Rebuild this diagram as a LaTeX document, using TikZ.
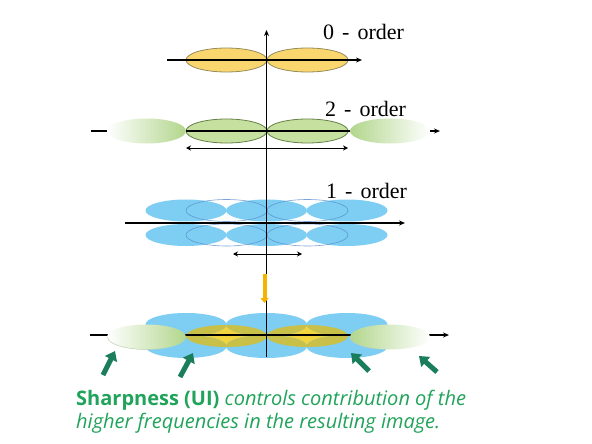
\documentclass[tikz,border=0pt]{standalone}
\usepackage{fontspec}
\setmainfont{Liberation Serif}
\newfontfamily\capfont{Open Sans}
\usetikzlibrary{arrows.meta}
\definecolor{yfill}{RGB}{249,214,110}
\definecolor{yline}{RGB}{150,140,90}
\definecolor{gfill}{RGB}{198,224,160}
\definecolor{gline}{RGB}{100,130,70}
\definecolor{gfuzz}{RGB}{178,214,140}
\definecolor{bfill}{RGB}{125,206,242}
\definecolor{bline}{RGB}{90,140,205}
\definecolor{olivey}{RGB}{200,192,72}
\definecolor{byel}{RGB}{242,212,62}
\definecolor{orng}{RGB}{245,180,0}
\definecolor{tgreen}{RGB}{32,163,90}
\definecolor{agreen}{RGB}{26,125,92}
\newcommand{\ordlabel}[1]{#1\hspace{8pt}-\hspace{8pt}order}
\begin{document}
\begin{tikzpicture}[x=1pt,y=-1pt,
  axis/.style={line width=1.1pt,black},
  axarrow/.style={axis,-{Stealth[length=6pt,width=5pt]}},
  dblarrow/.style={line width=1pt,black,{Stealth[length=5pt,width=5pt]}-{Stealth[length=5pt,width=5pt]}},
  yell/.style={fill=yfill,draw=yline,line width=0.8pt},
  gell/.style={fill=gfill,draw=gline,line width=0.8pt},
  bell/.style={fill=bfill},
  bout/.style={draw=bline,line width=0.6pt,opacity=0.8},
  fuzzL/.style={left color=white,right color=gfuzz},
  fuzzR/.style={left color=gfuzz,right color=white},
  label/.style={font=\fontsize{22}{25}\selectfont,anchor=base west,inner sep=0pt},
  greenarrow/.style={line width=5pt,agreen,-{Triangle[length=9pt,width=13pt]}},
  captxt/.style={font=\capfont\fontsize{20}{23}\selectfont,text=tgreen,anchor=base west,inner sep=0pt}
]
\useasboundingbox (0,0) rectangle (592,444);
\fill[white] (0,0) rectangle (592,444);

% ---------- 0-order ----------
\draw[yell] (226.5,60) ellipse [x radius=40.5,y radius=12];
\draw[yell] (307.5,60) ellipse [x radius=40.5,y radius=12];
\coordinate (a0L) at (167,60);
\coordinate (a0R) at (362,60);
\draw[axarrow] (a0L) -- (a0R);
\node[label] (l0) at (323,40) {\ordlabel{0}};

% ---------- 2-order ----------
\draw[gell] (226.5,131) ellipse [x radius=40.5,y radius=12];
\draw[gell] (307.5,131) ellipse [x radius=40.5,y radius=12];
\coordinate (a2L) at (91,131);
\coordinate (a2R) at (440,131);
\draw[axarrow] (a2L) -- (a2R);
\shade[fuzzL] (146.5,131) ellipse [x radius=39.5,y radius=12.5];
\shade[fuzzR] (390,131) ellipse [x radius=40,y radius=12.5];
\coordinate (d2L) at (186,148);
\coordinate (d2R) at (348,148);
\draw[dblarrow] (d2L) -- (d2R);
\node[label] (l2) at (325,116) {\ordlabel{2}};

% ---------- 1-order ----------
\foreach \cx in {186,266.5,347}{
  \fill[bell] (\cx,210.5) ellipse [x radius=40.5,y radius=11];
  \fill[bell] (\cx,235) ellipse [x radius=40.5,y radius=11];
}
\foreach \cx in {226.5,307.5}{
  \draw[bout] (\cx,210.5) ellipse [x radius=40.5,y radius=11];
  \draw[bout] (\cx,235) ellipse [x radius=40.5,y radius=11];
}
\coordinate (a1L) at (125,223);
\coordinate (a1R) at (405,223);
\draw[axarrow] (a1L) -- (a1R);
\coordinate (d1L) at (233,254);
\coordinate (d1R) at (302,254);
\draw[dblarrow] (d1L) -- (d1R);
\node[label] (l1) at (326,198) {\ordlabel{1}};

% ---------- combined ----------
\foreach \cx in {226.5,307.5}{
  \fill[byel] (\cx,336) ellipse [x radius=40.5,y radius=11];
}
\foreach \cx in {186,266.5,347}{
  \fill[bell] (\cx,324.5) ellipse [x radius=40.5,y radius=11.5];
  \fill[bell] (\cx,346.5) ellipse [x radius=40.5,y radius=11.5];
}
\begin{scope}
  \clip (226.5,336) ellipse [x radius=40.5,y radius=11] (307.5,336) ellipse [x radius=40.5,y radius=11];
  \foreach \cx in {186,266.5,347}{
    \fill[olivey] (\cx,324.5) ellipse [x radius=40.5,y radius=11.5];
    \fill[olivey] (\cx,346.5) ellipse [x radius=40.5,y radius=11.5];
  }
\end{scope}
\coordinate (a3L) at (90,335);
\coordinate (a3R) at (449,335);
\draw[axarrow] (a3L) -- (a3R);
\shade[fuzzL] (146.5,337) ellipse [x radius=39.5,y radius=12.5];
\shade[fuzzR] (390,337) ellipse [x radius=40,y radius=12.5];
\draw[gline!40,line width=0.5pt] (107.5,337) arc[start angle=180,end angle=70,x radius=39.5,y radius=12.5];
\draw[gline!40,line width=0.5pt] (350,337) arc[start angle=180,end angle=110,x radius=40,y radius=12.5];

% ---------- vertical axis ----------
\coordinate (vB) at (266.5,357);
\coordinate (vT) at (266.5,30);
\draw[axarrow] (vB) -- (vT);

% orange arrow
\coordinate (oT) at (264.5,274);
\coordinate (oB) at (264.5,303);
\draw[line width=4pt,orng,-{Triangle[length=5pt,width=8pt]}] (oT) -- (oB);

% green arrows
\coordinate (g1s) at (103,375); \coordinate (g1e) at (115,351);
\coordinate (g2s) at (180,377); \coordinate (g2e) at (193,353);
\coordinate (g3s) at (369,371); \coordinate (g3e) at (351,353);
\coordinate (g4s) at (437,372); \coordinate (g4e) at (419,356);
\draw[greenarrow] (g1s) -- (g1e);
\draw[greenarrow] (g2s) -- (g2e);
\draw[greenarrow] (g3s) -- (g3e);
\draw[greenarrow] (g4s) -- (g4e);

% caption
\node[captxt] (c1) at (76,405) {\textbf{Sharpness (UI)} \textit{controls contribution of the}};
\node[captxt] (c2) at (76,428) {\textit{higher frequencies in the resulting image.}};
\end{tikzpicture}
\end{document}
